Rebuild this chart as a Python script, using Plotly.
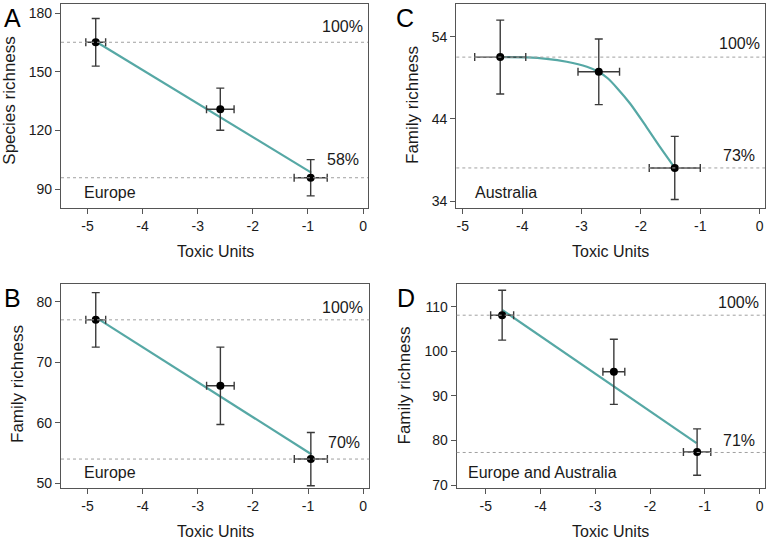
import plotly.graph_objects as go

# ---------------- data ----------------
# Panel A: Europe, species richness
A_x = [-4.85, -2.59, -0.95]
A_y = [165.2, 130.9, 95.8]
A_xerr = [0.18, 0.25, 0.30]
A_yerr = [12.2, 10.8, 9.3]
A_fit_x = [-4.85, -0.94]
A_fit_y = [165.6, 98.4]
A_ref = [165.2, 95.8]
A_ref_labels = ["100%", "58%"]

# Panel B: Europe, family richness
B_x = [-4.85, -2.59, -0.95]
B_y = [77.0, 66.1, 54.0]
B_xerr = [0.18, 0.25, 0.30]
B_yerr = [4.5, 6.4, 4.4]
B_fit_x = [-4.85, -0.94]
B_fit_y = [77.4, 54.8]
B_ref = [77.0, 54.0]
B_ref_labels = ["100%", "70%"]

# Panel C: Australia, family richness
C_x = [-4.37, -2.71, -1.43]
C_y = [51.53, 49.74, 38.03]
C_xerr = [0.43, 0.35, 0.43]
C_yerr = [4.5, 4.0, 3.85]
C_fit_x = [-4.37, -3.92, -3.59, -3.25, -2.91, -2.71, -2.56, -2.40, -2.18, -1.90, -1.68, -1.43]
C_fit_y = [51.53, 51.49, 51.32, 50.96, 50.35, 49.72, 48.95, 47.75, 45.85, 42.95, 40.60, 38.05]
C_ref = [51.53, 38.03]
C_ref_labels = ["100%", "73%"]

# Panel D: Europe and Australia, family richness
D_x = [-4.70, -2.66, -1.14]
D_y = [108.1, 95.4, 77.4]
D_xerr = [0.21, 0.20, 0.25]
D_yerr = [5.6, 7.3, 5.2]
D_fit_x = [-4.70, -1.15]
D_fit_y = [109.3, 79.4]
D_ref = [108.1, 77.3]
D_ref_labels = ["100%", "71%"]

x_ticks = [-5, -4, -3, -2, -1, 0]
x_ticktext = ["-5", "-4", "-3", "-2", "-1", "0"]
A_yticks = [90, 120, 150, 180]
B_yticks = [50, 60, 70, 80]
C_yticks = [34, 44, 54]
D_yticks = [70, 80, 90, 100, 110]

panel_letters = ["A", "C", "B", "D"]
regions = ["Europe", "Australia", "Europe", "Europe and Australia"]
y_titles = ["Species richness", "Family richness", "Family richness", "Family richness"]
x_title = "Toxic Units"

# ---------------- styling ----------------
TEAL = "#56a8a5"
ERR = "#3a3a3a"
AXC = "#555555"
TXT = "#1a1a1a"
FONT = "Liberation Sans, Arial, sans-serif"
W, H = 768, 540

panels = [
    (A_x, A_y, A_xerr, A_yerr, A_fit_x, A_fit_y, A_ref, A_ref_labels, A_yticks,
     (61, 368, 4, 208), [-5.48, 0.09], [80.3, 184.8]),
    (C_x, C_y, C_xerr, C_yerr, C_fit_x, C_fit_y, C_ref, C_ref_labels, C_yticks,
     (456.3, 765, 4, 208), [-5.11, 0.09], [33.15, 58.0]),
    (B_x, B_y, B_xerr, B_yerr, B_fit_x, B_fit_y, B_ref, B_ref_labels, B_yticks,
     (61, 369.3, 284, 488.3), [-5.48, 0.11], [49.17, 82.92]),
    (D_x, D_y, D_xerr, D_yerr, D_fit_x, D_fit_y, D_ref, D_ref_labels, D_yticks,
     (456.7, 765, 284, 488.3), [-5.53, 0.10], [69.26, 115.1]),
]

ref_pos = [
    [(0.990, 8), (0.976, 11)],
    [(0.990, 6), (0.974, 5)],
    [(0.987, 5), (0.976, 9)],
    [(0.988, 5), (0.975, 4)],
]
region_left_px = [20.7, 16.7, 20.7, 9.0]
letter_pos_px = [(2, 2), (394, 2), (2, 282), (395, 282)]
ytitle_pos_px = [(9.7, 100), (413, 105), (17, 384), (403.5, 386)]
xtitle_pos_px = [(215, 251.5), (610, 251.5), (215, 531), (610.7, 531)]

fig = go.Figure()
layout = dict(
    template="none",
    width=W, height=H, margin=dict(l=0, r=0, t=0, b=0, pad=0),
    paper_bgcolor="white", plot_bgcolor="white", showlegend=False,
    font=dict(family=FONT, color=TXT),
)
annotations = []
shapes = []

for i, (px, py, pxe, pye, fx, fy, refs, reflabels, yticks, box, xr, yr) in enumerate(panels):
    n = "" if i == 0 else str(i + 1)
    xa, ya = "x" + n, "y" + n
    l, r, t, b = box
    layout["xaxis" + n] = dict(
        domain=[l / W, r / W], range=xr, anchor=ya, automargin=False,
        tickvals=x_ticks, ticktext=x_ticktext,
        showgrid=False, zeroline=False, showline=True, mirror=True,
        linecolor=AXC, linewidth=1.2, ticks="outside", ticklen=5, tickwidth=1.2,
        tickcolor=AXC, tickfont=dict(size=14, color=TXT),
    )
    layout["yaxis" + n] = dict(
        domain=[1 - b / H, 1 - t / H], range=yr, anchor=xa, automargin=False,
        tickvals=yticks,
        showgrid=False, zeroline=False, showline=True, mirror=True,
        linecolor=AXC, linewidth=1.2, ticks="outside", ticklen=5, tickwidth=1.2,
        tickcolor=AXC, tickfont=dict(size=14, color=TXT),
    )
    # reference dotted lines
    for k, ry in enumerate(refs):
        shapes.append(dict(type="line", xref=xa + " domain", yref=ya,
                           x0=0, x1=1, y0=ry, y1=ry,
                           line=dict(color="#a0a0a0", width=1, dash="dot")))
        dx, sh = ref_pos[i][k]
        annotations.append(dict(text=reflabels[k], xref=xa + " domain", yref=ya,
                                x=dx, y=ry, xanchor="right", yanchor="bottom",
                                yshift=sh - 3, showarrow=False,
                                font=dict(size=16, color=TXT)))
    # fit line
    fig.add_trace(go.Scatter(x=fx, y=fy, mode="lines", xaxis=xa, yaxis=ya,
                             line=dict(color=TEAL, width=2.2,
                                       shape="spline" if len(fx) > 2 else "linear",
                                       smoothing=0.8),
                             hoverinfo="skip"))
    # points with error bars
    fig.add_trace(go.Scatter(x=px, y=py, mode="markers", xaxis=xa, yaxis=ya,
                             marker=dict(color="black", size=8),
                             error_x=dict(type="data", array=pxe, color=ERR, thickness=1.4, width=4),
                             error_y=dict(type="data", array=pye, color=ERR, thickness=1.4, width=4)))
    # region label
    annotations.append(dict(text=regions[i], xref="paper", yref="paper",
                            x=(l + region_left_px[i]) / W, y=1 - (b - 5) / H,
                            xanchor="left", yanchor="bottom", showarrow=False,
                            font=dict(size=16, color=TXT)))
    # panel letter
    lx, ly = letter_pos_px[i]
    annotations.append(dict(text=panel_letters[i], xref="paper", yref="paper",
                            x=lx / W, y=1 - ly / H, xanchor="left", yanchor="top",
                            showarrow=False, font=dict(size=25, color="black")))
    # axis titles
    tx, ty = ytitle_pos_px[i]
    annotations.append(dict(text=y_titles[i], xref="paper", yref="paper",
                            x=tx / W, y=1 - ty / H, xanchor="center", yanchor="middle",
                            textangle=-90, showarrow=False,
                            font=dict(size=17, color=TXT)))
    tx, ty = xtitle_pos_px[i]
    annotations.append(dict(text=x_title, xref="paper", yref="paper",
                            x=tx / W, y=1 - ty / H, xanchor="center", yanchor="middle",
                            showarrow=False, font=dict(size=16, color=TXT)))

layout["annotations"] = annotations
layout["shapes"] = shapes
fig.update_layout(**layout)
fig.write_html("out.html", config={"displayModeBar": False},
               post_script="document.body.style.margin='0px';document.body.style.overflow='hidden';")
